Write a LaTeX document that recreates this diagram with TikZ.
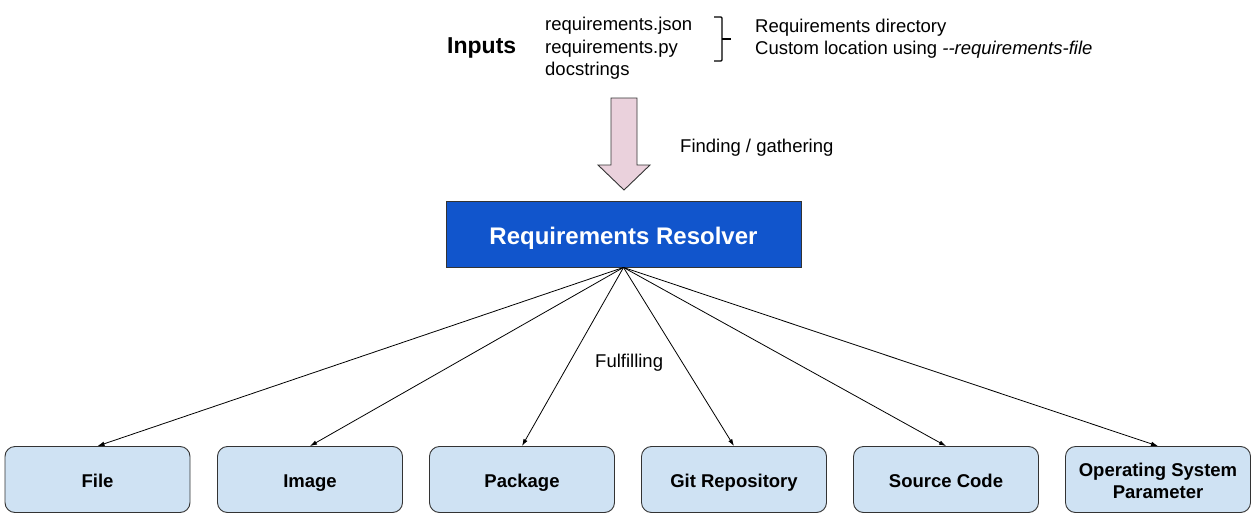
\documentclass[tikz,border=0pt]{standalone}
\usepackage{fontspec}
\setmainfont{Liberation Sans}
\usetikzlibrary{arrows.meta}
\definecolor{resblue}{HTML}{1155CC}
\definecolor{boxblue}{HTML}{CFE2F3}
\definecolor{arrowpink}{HTML}{EAD1DC}
\definecolor{edgegray}{HTML}{333333}
\newcommand{\capline}[2]{\raisebox{0pt}[#1][0pt]{#2}}
\begin{document}
\begin{tikzpicture}[x=1pt,y=-1pt,
  target/.style={draw=edgegray, fill=boxblue, rounded corners=10pt, minimum width=185pt, minimum height=66pt, inner sep=0pt, align=center, font=\bfseries\fontsize{18.5}{22}\selectfont, line width=0.9pt},
  conn/.style={-{Latex[length=7pt,width=4.5pt]}, line width=0.8pt},
  txt/.style={inner sep=0pt, anchor=base west, font=\fontsize{18.5}{22}\selectfont}]
\useasboundingbox (0,0) rectangle (1258,519);
% inputs
\node[txt, font=\bfseries\fontsize{23}{27}\selectfont] (inputs) at (447,53.5) {Inputs};
\node[txt] (rj) at (545,31) {requirements.json};
\node[txt] (rp) at (545,53) {requirements.py};
\node[txt] (ds) at (545,75) {docstrings};
\coordinate (b1) at (714,17);
\coordinate (b2) at (722,17);
\coordinate (b3) at (722,61);
\coordinate (b4) at (714,61);
\coordinate (bm) at (722,39);
\coordinate (bt) at (731,39);
\draw[line width=1.3pt, rounded corners=1pt] (b1) -- (b2) -- (b3) -- (b4);
\draw[line width=1.3pt] (bm) -- (bt);
\node[txt] (rd) at (755,32.5) {Requirements directory};
\node[txt] (cl) at (755,54.5) {Custom location using \textit{-{}-requirements-file}};
% big arrow
\draw[draw=edgegray, fill=arrowpink, line width=0.9pt]
  (611,98) -- (637,98) -- (637,165) -- (650,165) -- (624,190) -- (598,165) -- (611,165) -- cycle;
\node[txt] (fg) at (680,152) {Finding / gathering};
% resolver
\node[draw=edgegray, fill=resblue, minimum width=355pt, minimum height=66pt, inner sep=0pt, line width=0.9pt,
  text=white, font=\bfseries\fontsize{24}{28}\selectfont] (res) at (623.5,234) {\capline{21.2pt}{Requirements Resolver}};
% targets
\node[target] (file) at (97.5,479.5) {\capline{16.2pt}{File}};
\node[target] (image) at (310,479.5) {\capline{16.2pt}{Image}};
\node[target] (pkg) at (522,479.5) {\capline{16.2pt}{Package}};
\node[target] (git) at (734,479.5) {\capline{16.2pt}{Git Repository}};
\node[target] (src) at (946,479.5) {\capline{16.2pt}{Source Code}};
\node[target] (os) at (1158,479.5) {\capline{16.2pt}{Operating System}\\\capline{16.2pt}{Parameter}};
\foreach \t in {file,image,pkg,git,src,os}
  \draw[conn] (res.south) -- (\t.north);
\node[txt] (ful) at (595,367) {Fulfilling};
\end{tikzpicture}
\end{document}
